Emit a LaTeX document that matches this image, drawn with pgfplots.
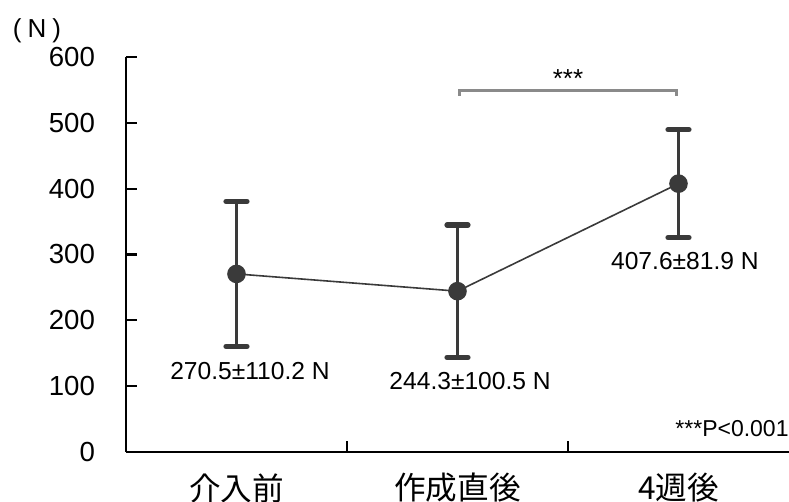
\documentclass[border=0pt]{standalone}
\usepackage{fontspec}
\setmainfont{Liberation Sans}
\newfontfamily\cjk{Noto Sans CJK JP}
\usepackage{pgfplots}
\pgfplotsset{compat=1.18}
\definecolor{pt}{HTML}{3A3A3A}
\definecolor{brk}{HTML}{8A8A8A}

\begin{document}
\begin{tikzpicture}
\begin{axis}[
    scale only axis,
    width=331.5pt, height=197.5pt,
    xmin=-0.5, xmax=2.5, ymin=0, ymax=600,
    axis x line*=bottom, axis y line*=left,
    axis line style={line width=1.1pt, -},
    tick align=inside,
    major tick length=5.5pt,
    tick style={line width=1.1pt, black},
    ytick={0,100,...,600},
    yticklabel style={font=\fontsize{13.8}{16}\selectfont, xshift=-12pt},
    /pgf/number format/assume math mode=true,
    xtick={0.5,1.5}, xticklabels={},
    extra x ticks={0,1,2},
    extra x tick labels={{\cjk 介入前},{\cjk 作成直後},{\cjk 4週後}},
    extra x tick style={tick style={draw=none},
        xticklabel style={font=\fontsize{15.8}{18}\selectfont, anchor=center, yshift=-18pt}},
    clip=false,
]
\addplot[color=pt, line width=0.8pt, mark=*, mark size=4.25pt,
    mark options={fill=pt, draw=pt},
    error bars/.cd, y dir=both, y explicit,
    error bar style={line width=1.8pt, color=pt},
    error mark options={rotate=90, mark size=5.2pt, line width=2.7pt, line cap=round, color=pt}]
    coordinates {(0,270.5) +- (0,110.2) (1,244.3) +- (0,100.5) (2,407.6) +- (0,81.9)};

\node[anchor=base, font=\fontsize{12.3}{14}\selectfont] at (axis cs:0.061,110.4) {270.5±110.2 N};
\node[anchor=base, font=\fontsize{12.3}{14}\selectfont] at (axis cs:1.057,95.2) {244.3±100.5 N};
\node[anchor=base, font=\fontsize{12.3}{14}\selectfont] at (axis cs:2.029,276.5) {407.6±81.9 N};

\draw[brk, line width=1.3pt] (axis cs:1.01,541) -- (axis cs:1.01,549) -- (axis cs:1.99,549) -- (axis cs:1.99,541);
\node[anchor=base, font=\fontsize{13}{14}\selectfont] at (axis cs:1.5,553) {***};
\node[anchor=base east, inner sep=0pt, font=\fontsize{11.5}{12}\selectfont] at (axis cs:2.5,23.3) {***P<0.001};
\node[anchor=base, font=\fontsize{13}{14}\selectfont] at (axis cs:-0.903,630) {(\hspace{3pt}N\hspace{3pt})};
\end{axis}
\pgfresetboundingbox
\path[use as bounding box] (-63pt,-25pt) rectangle (331.5pt,226pt);
\end{tikzpicture}
\end{document}
